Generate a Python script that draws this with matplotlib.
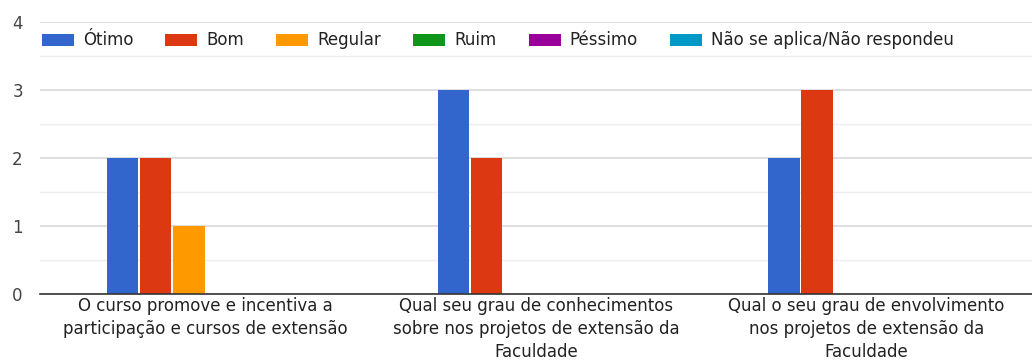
import matplotlib
matplotlib.use("Agg")
import matplotlib.pyplot as plt
import numpy as np

plt.rcParams['font.family'] = ['DejaVu Sans']

categories = [
    "O curso promove e incentiva a\nparticipação e cursos de extensão",
    "Qual seu grau de conhecimentos\nsobre nos projetos de extensão da\nFaculdade",
    "Qual o seu grau de envolvimento\nnos projetos de extensão da\nFaculdade",
]
series_names = ["Ótimo", "Bom", "Regular", "Ruim", "Péssimo", "Não se aplica/Não respondeu"]
otimo = [2, 3, 2]
bom = [2, 2, 3]
regular = [1, 0, 0]
ruim = [0, 0, 0]
pessimo = [0, 0, 0]
nao_se_aplica = [0, 0, 0]
values = [otimo, bom, regular, ruim, pessimo, nao_se_aplica]
colors = ["#3366CC", "#DC3912", "#FF9900", "#109618", "#990099", "#0099C6"]
y_ticks = [0, 1, 2, 3, 4]

FS = 12

fig = plt.figure(figsize=(10.32, 3.61), dpi=100)
ax = fig.add_axes([40 / 1032, 67 / 361, 992 / 1032, 272 / 361])

x = np.arange(len(categories))
bw = 0.1
for i, (name, vals, c) in enumerate(zip(series_names, values, colors)):
    ax.bar(x + (i - 2.5) * bw, vals, width=bw * 0.95, color=c, label=name,
           zorder=3, linewidth=0)

ax.set_xlim(-0.5, len(categories) - 0.5)
ax.set_ylim(0, 4)
ax.set_yticks(y_ticks)
ax.set_yticks(np.arange(0.5, 4, 1), minor=True)
ax.grid(axis='y', which='major', color='#d9d9d9', linewidth=1.2, zorder=0)
ax.grid(axis='y', which='minor', color='#eeeeee', linewidth=1.0, zorder=0)
ax.tick_params(axis='y', which='both', length=0, labelsize=FS, labelcolor='#444444', pad=20)
ax.tick_params(axis='x', length=0, labelsize=FS, labelcolor='#222222', pad=2)
for lbl in ax.get_yticklabels():
    lbl.set_horizontalalignment('left')
ax.set_xticks(x)
ax.set_xticklabels(categories, linespacing=1.35)
for s in ['top', 'right', 'left']:
    ax.spines[s].set_visible(False)
ax.spines['bottom'].set_color('#333333')
ax.spines['bottom'].set_linewidth(1.2)
ax.spines['bottom'].set_zorder(4)

leg = ax.legend(loc='upper left', bbox_to_anchor=(-0.005, 0.99), ncol=6, frameon=False,
                fontsize=FS, handlelength=1.92, handleheight=0.72, handletextpad=0.54,
                columnspacing=1.93, borderaxespad=0)
for t in leg.get_texts():
    t.set_color('#222222')

fig.savefig("out.png", dpi=100)
